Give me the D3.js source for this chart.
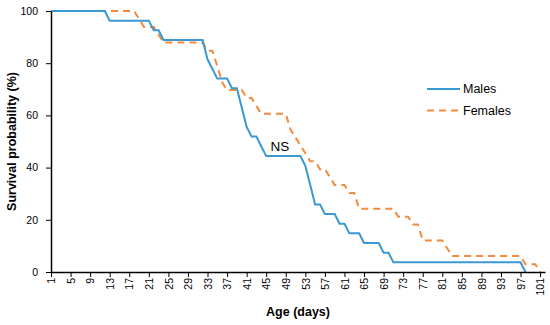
<!DOCTYPE html>
<html>
<head>
<meta charset="utf-8">
<script src="https://cdn.jsdelivr.net/npm/d3@7/dist/d3.min.js"></script>
<style>
	body { margin: 0; background: #fff; }
	svg { display: block; font-family: "Liberation Sans", Arial, sans-serif; }
	.axis path, .axis line { stroke: #000; }
	.axis text { fill: #000; font-size: 10.5px; }
	.label { font-weight: bold; font-size: 12.5px; fill: #000; }
</style>
</head>
<body>
<div id="chart"></div>
<script>
// ********** SURVIVAL CHART **********

// Age categories on the x axis (days 1 - 102)
const days = d3.range(1, 103);

// Day labels shown on the axis
const dayLabels = [1, 5, 9, 13, 17, 21, 25, 29, 33, 37, 41, 45, 49, 53, 57, 61, 65, 69, 73, 77, 81, 85, 89, 93, 97, 101];

// Y axis ticks
const yTicks = [0, 20, 40, 60, 80, 100];

// Survival probability (%) per day, starting at day 1
const males = [
	100, 100, 100, 100, 100, 100, 100, 100, 100, 100, 100, 100,
	96.3, 96.3, 96.3, 96.3, 96.3, 96.3, 96.3, 96.3, 96.3,
	92.6, 92.6,
	88.9, 88.9, 88.9, 88.9, 88.9, 88.9, 88.9, 88.9, 88.9,
	81.5, 77.8,
	74.1, 74.1, 74.1,
	70.4, 70.4,
	63.0, 55.6,
	51.9, 51.9,
	48.1,
	44.4, 44.4, 44.4, 44.4, 44.4, 44.4, 44.4, 44.4,
	40.7, 33.3,
	25.9, 25.9,
	22.2, 22.2, 22.2,
	18.5, 18.5,
	14.8, 14.8, 14.8,
	11.1, 11.1, 11.1, 11.1,
	7.4, 7.4,
	3.7, 3.7, 3.7, 3.7, 3.7, 3.7, 3.7, 3.7, 3.7, 3.7, 3.7, 3.7, 3.7, 3.7,
	3.7, 3.7, 3.7, 3.7, 3.7, 3.7, 3.7, 3.7, 3.7, 3.7, 3.7, 3.7, 3.7,
	0
];

const females = [
	100, 100, 100, 100, 100, 100, 100, 100, 100, 100, 100, 100, 100, 100, 100, 100, 100, 100,
	97.0, 93.9, 93.9, 93.9,
	90.9,
	87.9, 87.9, 87.9, 87.9, 87.9, 87.9, 87.9, 87.9, 87.9,
	84.8, 84.8,
	78.8, 72.7,
	69.7, 69.7, 69.7, 69.7,
	66.7, 66.7,
	63.6,
	60.6, 60.6, 60.6, 60.6, 60.6, 60.6,
	54.5, 51.5, 48.5, 45.5,
	42.4, 42.4,
	39.4, 39.4,
	36.4,
	33.3, 33.3, 33.3,
	30.3, 30.3,
	24.2, 24.2, 24.2, 24.2, 24.2, 24.2, 24.2, 24.2,
	21.2, 21.2, 21.2,
	18.2, 18.2,
	12.1, 12.1, 12.1, 12.1, 12.1,
	9.1,
	6.1, 6.1, 6.1, 6.1, 6.1, 6.1, 6.1, 6.1, 6.1, 6.1, 6.1, 6.1, 6.1, 6.1, 6.1,
	3.0, 3.0, 3.0,
	0
];

const seriesNames = ['Males', 'Females'];

// Chart size and margins
const width = 550;
const height = 325;
const margin = { top: 11, left: 51, right: 5, bottom: 53 };
const innerW = width - margin.left - margin.right;
const innerH = height - margin.top - margin.bottom;

const styles = {
	Males: { color: '#3a98d2', dash: null },
	Females: { color: '#f5893b', dash: '7,5' }
};

const svg = d3.select('#chart')
	.append('svg')
	.attr('width', width)
	.attr('height', height);

// Scales
const xScale = d3.scalePoint()
	.domain(days)
	.range([0, innerW]);

const yScale = d3.scaleLinear()
	.domain([0, 100])
	.range([innerH, 0]);

const body = svg.append('g')
	.attr('transform', `translate(${margin.left}, ${margin.top})`);

// Lines
const line = d3.line()
	.x(d => xScale(d.day))
	.y(d => yScale(d.value));

const toPoints = arr => arr.map((v, i) => ({ day: days[i], value: v }));

[['Females', females], ['Males', males]].forEach(([name, values]) => {
	body.append('path')
		.datum(toPoints(values))
		.attr('fill', 'none')
		.attr('stroke', styles[name].color)
		.attr('stroke-width', 2)
		.attr('stroke-dasharray', styles[name].dash)
		.attr('d', line);
});

// X axis
const xAxis = d3.axisBottom(xScale)
	.tickValues(dayLabels)
	.tickSizeInner(5)
	.tickSizeOuter(0);

const xg = body.append('g')
	.attr('class', 'x axis')
	.attr('transform', `translate(0, ${innerH})`)
	.call(xAxis);

xg.select('.domain').attr('stroke-width', 1.5);
xg.selectAll('.tick text')
	.attr('transform', 'rotate(-90)')
	.attr('x', -6)
	.attr('y', 0)
	.attr('dy', '0.35em')
	.style('text-anchor', 'end');

// Y axis
const yAxis = d3.axisLeft(yScale)
	.tickValues(yTicks)
	.tickSizeInner(5)
	.tickSizeOuter(0)
	.tickPadding(8);

const yg = body.append('g')
	.attr('class', 'y axis')
	.call(yAxis);

yg.select('.domain').attr('stroke-width', 1.5);

// Axis labels
svg.append('text')
	.attr('class', 'label')
	.attr('transform', `translate(16, ${margin.top + innerH / 2}) rotate(-90)`)
	.style('text-anchor', 'middle')
	.text('Survival probability (%)');

svg.append('text')
	.attr('class', 'label')
	.attr('x', margin.left + innerW / 2)
	.attr('y', 316)
	.style('text-anchor', 'middle')
	.text('Age (days)');

// NS annotation
svg.append('text')
	.attr('x', 280)
	.attr('y', 151)
	.style('text-anchor', 'middle')
	.style('font-size', '13.5px')
	.text('NS');

// Legend
const legend = svg.append('g')
	.attr('transform', 'translate(427, 89)');

seriesNames.forEach((name, i) => {
	const row = legend.append('g')
		.attr('transform', `translate(0, ${i * 21.5})`);
	row.append('line')
		.attr('x1', 0)
		.attr('x2', 33)
		.attr('stroke', styles[name].color)
		.attr('stroke-width', 2)
		.attr('stroke-dasharray', styles[name].dash);
	row.append('text')
		.attr('x', 36)
		.attr('dy', '0.35em')
		.style('font-size', '12.5px')
		.text(name);
});
</script>
</body>
</html>
